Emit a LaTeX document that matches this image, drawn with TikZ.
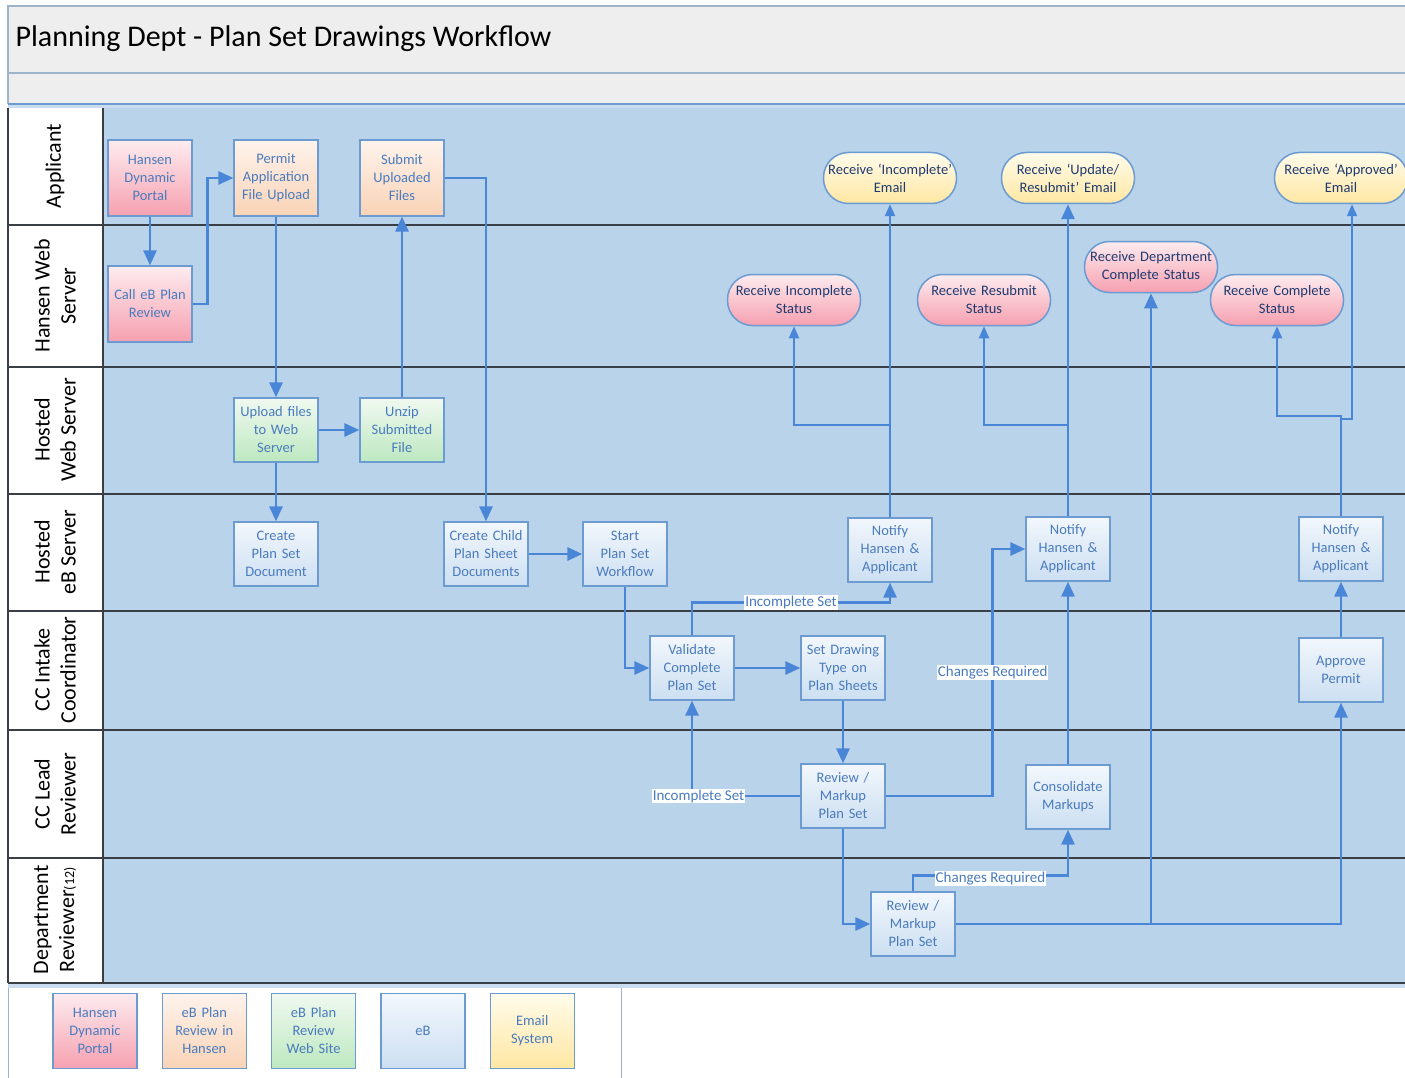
\documentclass[tikz,border=0pt]{standalone}
\usepackage{fontspec}
\setmainfont{Carlito}
\usetikzlibrary{positioning}
\usetikzlibrary{arrows.meta}

\definecolor{LaneBlue}{HTML}{B8D3EA}
\definecolor{StripBlue}{HTML}{C9DCF0}
\definecolor{FlowBlue}{HTML}{4A86D8}
\definecolor{BoxEdge}{HTML}{6C9BD2}
\definecolor{BoxText}{HTML}{4A7BBE}
\definecolor{TermText}{HTML}{1F3A70}
\definecolor{TitleGrey}{HTML}{EEEEEE}
\definecolor{TitleEdge}{HTML}{9DB3CC}
\definecolor{LaneLine}{HTML}{3A3F46}
\definecolor{EbTop}{HTML}{F2F7FC}
\definecolor{EbBot}{HTML}{CCDFF2}
\definecolor{PinkTop}{HTML}{FDECEF}
\definecolor{PinkBot}{HTML}{F6A0B0}
\definecolor{PeachTop}{HTML}{FEF3EC}
\definecolor{PeachBot}{HTML}{F9D3B6}
\definecolor{GreenTop}{HTML}{F0F9F0}
\definecolor{GreenBot}{HTML}{BDE8C0}
\definecolor{YellowTop}{HTML}{FFFCEB}
\definecolor{YellowBot}{HTML}{FFE7A3}

\newcommand{\wfboxfont}{\fontsize{14.5}{18}\selectfont}
\newcommand{\wflabelfont}{\fontsize{15}{18}\selectfont}
\newcommand{\wflanefont}{\fontsize{22}{26}\selectfont}
\newcommand{\wftitlefont}{\fontsize{30}{34}\selectfont}

\begin{document}
\begin{tikzpicture}[
        x=1pt, y=-1pt,
        >={Triangle[length=15pt,width=13pt]},
        node distance=24pt,
        stepbox/.style={rectangle, draw=BoxEdge, line width=1.3pt, minimum height=64pt, text width=82pt, inner sep=1pt, align=center, text=BoxText, font=\wfboxfont},
        ebbox/.style={stepbox, top color=EbTop, bottom color=EbBot},
        pinkbox/.style={stepbox, top color=PinkTop, bottom color=PinkBot},
        peachbox/.style={stepbox, top color=PeachTop, bottom color=PeachBot},
        greenbox/.style={stepbox, top color=GreenTop, bottom color=GreenBot},
        yellowbox/.style={stepbox, top color=YellowTop, bottom color=YellowBot},
        termnode/.style={rectangle, rounded corners=25pt, draw=BoxEdge, line width=1.5pt, minimum height=51pt, text width=131pt, inner sep=1pt, align=center, text=TermText, font=\wfboxfont},
        emailnode/.style={termnode, top color=YellowTop, bottom color=YellowBot},
        statusnode/.style={termnode, top color=PinkTop, bottom color=PinkBot},
        lanelabel/.style={rotate=90, align=center, font=\wflanefont},
        flow/.style={->, draw=FlowBlue, line width=2.8pt},
        thinflow/.style={->, draw=FlowBlue, line width=2pt, >={Triangle[length=12pt,width=10pt]}},
        lbl/.style={fill=white, inner sep=1pt, text=BoxText, font=\wflabelfont}
    ]

        \useasboundingbox (0,0) rectangle (1405,1078);
        \fill[white] (0,0) rectangle (1405,1078);

        % Title and lanes
        \fill[TitleGrey] (8,6) rectangle (1405,104);
        \draw[TitleEdge, line width=1.2pt] (1405,6) -- (8,6) -- (8,104);
        \draw[TitleEdge, line width=1.2pt] (8,73) -- (1405,73);
        \fill[StripBlue] (8,104) rectangle (1405,108);
        \draw[BoxEdge, line width=1.2pt] (8,104) -- (1405,104);
        \fill[LaneBlue] (103,108) rectangle (1405,983);
        \draw[LaneLine, line width=1.5pt] (8,108) -- (8,983);
        \draw[LaneLine, line width=1.5pt] (103,108) -- (103,983);
        \foreach \y in {225,367,494,611,730,858,983}
            \draw[LaneLine, line width=1.8pt] (8,\y) -- (1405,\y);
        \fill[StripBlue] (8,984) rectangle (1405,988);
        \draw[TitleEdge, line width=1pt] (8,988) -- (8,1078);
        \draw[TitleEdge, line width=1pt] (621,988) -- (621,1078);

        \node [anchor=west, font=\wftitlefont] (Title) at (12,39) {Planning Dept - Plan Set Drawings Workflow};

        \node [lanelabel] (LaneApplicant) at (55,166) {Applicant};
        \node [lanelabel] (LaneHansen) at (55,296) {Hansen Web\\Server};
        \node [lanelabel] (LaneHostedWeb) at (55,430) {Hosted\\Web Server};
        \node [lanelabel] (LaneHostedEB) at (55,552) {Hosted\\eB Server};
        \node [lanelabel] (LaneIntake) at (55,670) {CC Intake\\Coordinator};
        \node [lanelabel] (LaneLead) at (55,794) {CC Lead\\Reviewer};
        \node [lanelabel] (LaneDept) at (55,920) {Department\\Reviewer{\fontsize{14}{14}\selectfont(12)}};

        % Steps
        \node [pinkbox, minimum height=76pt] (HansenPortal) at (150,178) {Hansen\\Dynamic\\Portal};
        \node [peachbox, minimum height=76pt] (PermitUpload) at (276,178) {Permit\\Application\\File Upload};
        \node [peachbox, minimum height=76pt] (SubmitFiles) at (402,178) {Submit\\Uploaded\\Files};
        \node [pinkbox, minimum height=76pt] (CallPlanReview) at (150,304) {Call eB Plan\\Review};
        \node [greenbox] (UploadFiles) at (276,430) {Upload files\\to Web\\Server};
        \node [greenbox] (UnzipFile) at (402,430) {Unzip\\Submitted\\File};
        \node [ebbox] (CreatePlanSet) at (276,554) {Create\\Plan Set\\Document};
        \node [ebbox] (CreateChild) at (486,554) {Create Child\\Plan Sheet\\Documents};
        \node [ebbox] (StartWorkflow) at (625,554) {Start\\Plan Set\\Workflow};
        \node [ebbox] (NotifyIncomplete) at (890,550) {Notify\\Hansen \&\\Applicant};
        \node [ebbox] (NotifyChanges) at (1068,549) {Notify\\Hansen \&\\Applicant};
        \node [ebbox] (NotifyApproved) at (1341,549) {Notify\\Hansen \&\\Applicant};
        \node [ebbox] (ValidateSet) at (692,668) {Validate\\Complete\\Plan Set};
        \node [ebbox] (SetDrawingType) at (843,668) {Set Drawing\\Type on\\Plan Sheets};
        \node [ebbox] (ApprovePermit) at (1341,670) {Approve\\Permit};
        \node [ebbox] (LeadReview) at (843,796) {Review /\\Markup\\Plan Set};
        \node [ebbox] (ConsolidateMarkups) at (1068,797) {Consolidate\\Markups};
        \node [ebbox] (DeptReview) at (913,924) {Review /\\Markup\\Plan Set};

        \node [emailnode] (EmailIncomplete) at (890,178) {Receive ‘Incomplete’\\Email};
        \node [emailnode] (EmailResubmit) at (1068,178) {Receive ‘Update/\\Resubmit’ Email};
        \node [emailnode] (EmailApproved) at (1341,178) {Receive ‘Approved’\\Email};
        \node [statusnode] (StatusIncomplete) at (794,300) {Receive Incomplete\\Status};
        \node [statusnode] (StatusResubmit) at (984,300) {Receive Resubmit\\Status};
        \node [statusnode] (StatusDeptComplete) at (1151,267) {Receive Department\\Complete Status};
        \node [statusnode] (StatusComplete) at (1277,300) {Receive Complete\\Status};

        % Legend
        \node [pinkbox, minimum height=75pt] (LegPortal) at (95,1031) {Hansen\\Dynamic\\Portal};
        \node [peachbox, minimum height=75pt] (LegHansen) [right=of LegPortal] {eB Plan\\Review in\\Hansen};
        \node [greenbox, minimum height=75pt] (LegWebSite) [right=of LegHansen] {eB Plan\\Review\\Web Site};
        \node [ebbox, minimum height=75pt] (LegEB) [right=of LegWebSite] {eB};
        \node [yellowbox, minimum height=75pt] (LegEmail) [right=of LegEB] {Email\\System};

        % Intake flow
        \draw[flow] (HansenPortal) -- (CallPlanReview);
        \draw[flow] (CallPlanReview.east) -- ++(15,0) |- (PermitUpload.west);
        \draw[flow] (PermitUpload) -- (UploadFiles);
        \draw[flow] (UploadFiles) -- (UnzipFile);
        \draw[flow] (UnzipFile) -- (SubmitFiles);
        \draw[flow] (SubmitFiles.east) -| (CreateChild.north);
        \draw[flow] (UploadFiles) -- (CreatePlanSet);
        \draw[flow] (CreateChild) -- (StartWorkflow);
        \draw[flow] (StartWorkflow.south) |- (ValidateSet.west);
        \draw[flow] (ValidateSet) -- (SetDrawingType);
        \draw[flow] (SetDrawingType) -- (LeadReview);

        % Review loops
        \draw[flow] (ValidateSet.north) -- ++(0,-33) -| node [lbl, pos=0.25] {Incomplete Set} (NotifyIncomplete.south);
        \draw[flow] (LeadReview.west) -| node [lbl, pos=0.47] {Incomplete Set} (ValidateSet.south);
        \draw[flow] (LeadReview.east) -- ++(107,0) |- node [lbl, pos=0.25] {Changes Required} (NotifyChanges.west);
        \draw[flow] (LeadReview.south) |- (DeptReview.west);
        \draw[flow] (DeptReview.north) -- ++(0,-16) -| node [lbl, pos=0.25, yshift=-3pt] {Changes Required} (ConsolidateMarkups.south);
        \draw[flow] (ConsolidateMarkups) -- (NotifyChanges);
        \draw[flow] (DeptReview.east) -| (StatusDeptComplete.south);
        \draw[flow] (DeptReview.east) -| (ApprovePermit.south);
        \draw[flow] (ApprovePermit) -- (NotifyApproved);

        % Notifications
        \draw[thinflow] (NotifyIncomplete) -- (EmailIncomplete);
        \draw[thinflow] (NotifyIncomplete.north) -- ++(0,-92) -| (StatusIncomplete.south);
        \draw[flow] (NotifyChanges) -- (EmailResubmit);
        \draw[thinflow] (NotifyChanges.north) -- ++(0,-91) -| (StatusResubmit.south);
        \draw[thinflow] (NotifyApproved.north) -- ++(0,-97) -| ([xshift=11pt]EmailApproved.south);
        \draw[thinflow] (NotifyApproved.north) -- ++(0,-100) -| (StatusComplete.south);

    \end{tikzpicture}
\end{document}
